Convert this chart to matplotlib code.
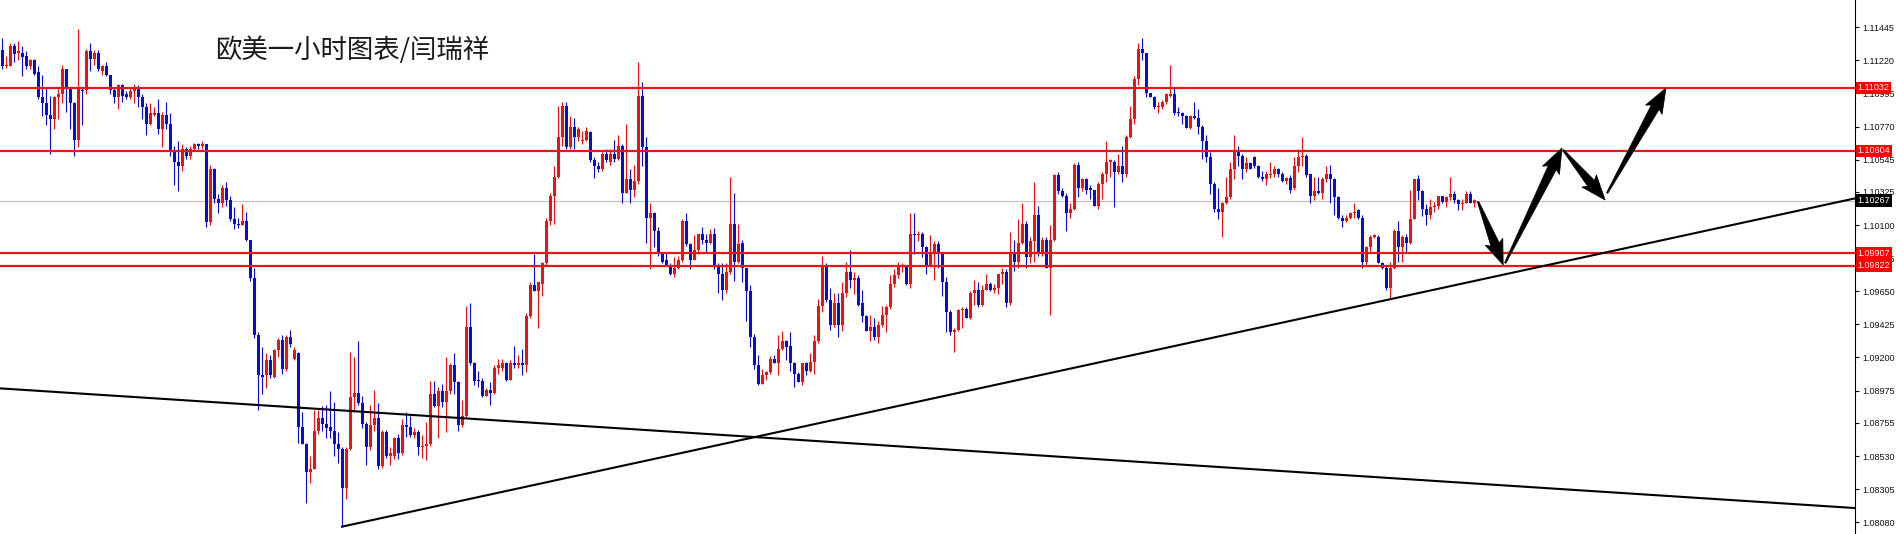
import numpy as np
import matplotlib
matplotlib.use('Agg')
import matplotlib.pyplot as plt
from matplotlib.patches import Polygon
from matplotlib.transforms import IdentityTransform, blended_transform_factory

plt.rcParams['font.family'] = ['Noto Sans CJK SC', 'DejaVu Sans']

# 价格 = BASE + 点数 / 10000 (从图上读出的一小时K线)
BASE = 1.08
opens_pips = [
    329, 318, 318, 332, 327, 327, 325, 318, 322, 314,
    297, 293, 285, 282, 297, 299, 316, 303, 293, 268,
    302, 302, 328, 323, 327, 315, 318, 312, 302, 297,
    305, 299, 297, 301, 304, 297, 290, 279, 285, 286,
    275, 285, 279, 261, 253, 250, 262, 257, 262, 265,
    264, 265, 212, 248, 228, 225, 235, 227, 214, 211,
    210, 213, 200, 174, 135, 108, 108, 118, 107, 125,
    132, 112, 134, 119, 123, 73, 61, 42, 44, 70,
    79, 75, 73, 70, 61, 58, 31, 58, 93, 96,
    89, 75, 59, 74, 79, 46, 69, 53, 53, 65,
    55, 74, 73, 67, 69, 59, 60, 61, 95, 87,
    97, 90, 97, 115, 103, 74, 80, 141, 116, 105,
    104, 94, 98, 96, 113, 113, 116, 105, 116, 115,
    116, 115, 148, 169, 165, 170, 184, 213, 230, 243,
    270, 291, 263, 277, 270, 267, 268, 273, 254, 250,
    248, 258, 253, 258, 255, 264, 232, 241, 234, 240,
    298, 263, 215, 218, 206, 190, 186, 183, 177, 181,
    186, 213, 197, 186, 193, 204, 200, 198, 204, 183,
    177, 166, 178, 211, 185, 198, 181, 165, 134, 115,
    102, 108, 110, 119, 116, 126, 131, 128, 116, 109,
    103, 116, 111, 117, 131, 155, 183, 159, 142, 157,
    142, 164, 178, 173, 174, 157, 148, 138, 141, 134,
    142, 149, 154, 170, 176, 182, 182, 170, 204, 203,
    204, 195, 183, 190, 197, 190, 171, 151, 137, 139,
    152, 153, 147, 164, 166, 156, 166, 170, 166, 167,
    177, 178, 157, 191, 185, 198, 211, 188, 199, 217,
    190, 200, 181, 200, 244, 233, 230, 218, 221, 251,
    235, 241, 235, 234, 223, 238, 245, 253, 253, 246,
    250, 245, 270, 282, 309, 330, 327, 300, 297, 290,
    290, 294, 298, 299, 287, 286, 284, 276, 284, 283,
    277, 267, 256, 238, 221, 219, 225, 229, 248, 261,
    257, 248, 252, 256, 250, 243, 241, 244, 245, 248,
    245, 240, 242, 235, 250, 256, 257, 245, 230, 233,
    232, 241, 245, 241, 229, 215, 213, 215, 218, 220,
    215, 185, 195, 202, 202, 184, 181, 167, 181, 206,
    195, 202, 198, 214, 241, 233, 221, 217, 222, 223,
    230, 226, 229, 231, 227, 224, 225, 231, 225,
]
highs_pips = [
    337, 325, 334, 334, 335, 332, 328, 323, 323, 318,
    312, 303, 298, 298, 303, 319, 316, 303, 294, 343,
    303, 330, 334, 329, 329, 319, 321, 312, 303, 306,
    306, 301, 303, 306, 305, 299, 293, 293, 290, 296,
    287, 294, 286, 264, 267, 265, 263, 264, 266, 266,
    267, 265, 251, 249, 231, 237, 239, 230, 222, 215,
    224, 219, 200, 181, 137, 127, 123, 122, 126, 133,
    135, 135, 139, 127, 124, 83, 62, 53, 84, 84,
    87, 88, 97, 90, 69, 59, 59, 124, 120, 131,
    94, 76, 88, 98, 89, 71, 71, 59, 66, 68,
    78, 83, 80, 72, 71, 67, 76, 104, 104, 100,
    102, 120, 116, 123, 104, 91, 155, 157, 117, 111,
    106, 99, 103, 115, 119, 119, 117, 118, 128, 122,
    126, 150, 171, 190, 171, 185, 215, 232, 250, 291,
    294, 294, 284, 283, 277, 274, 277, 274, 256, 253,
    260, 262, 262, 268, 271, 265, 279, 248, 251, 321,
    307, 270, 225, 219, 209, 192, 192, 184, 188, 189,
    214, 218, 198, 203, 204, 209, 204, 207, 208, 184,
    184, 184, 243, 232, 211, 200, 181, 169, 136, 122,
    112, 111, 121, 122, 135, 138, 132, 137, 117, 110,
    116, 117, 123, 135, 160, 189, 184, 167, 164, 164,
    171, 185, 193, 178, 176, 166, 149, 149, 147, 145,
    155, 156, 176, 180, 185, 184, 183, 218, 218, 206,
    205, 196, 203, 199, 199, 191, 175, 152, 140, 153,
    154, 154, 165, 173, 171, 169, 177, 171, 170, 177,
    181, 180, 205, 200, 214, 225, 213, 202, 239, 223,
    202, 202, 210, 245, 246, 235, 232, 225, 252, 253,
    242, 242, 237, 234, 239, 246, 267, 255, 254, 258,
    264, 271, 291, 311, 334, 337, 327, 300, 298, 294,
    295, 300, 319, 303, 290, 287, 285, 285, 294, 289,
    278, 271, 260, 239, 235, 226, 243, 253, 271, 264,
    258, 256, 253, 257, 251, 247, 247, 253, 250, 249,
    246, 243, 244, 256, 262, 270, 258, 245, 243, 243,
    243, 250, 251, 242, 230, 217, 217, 219, 225, 221,
    217, 196, 203, 204, 203, 185, 182, 185, 207, 213,
    203, 204, 234, 241, 244, 234, 224, 228, 226, 230,
    230, 230, 243, 233, 228, 228, 233, 233, 228,
]
lows_pips = [
    316, 317, 318, 321, 322, 311, 316, 316, 312, 296,
    284, 278, 258, 275, 282, 293, 287, 275, 257, 263,
    278, 299, 315, 319, 315, 312, 311, 299, 293, 289,
    294, 296, 296, 293, 290, 282, 271, 278, 284, 272,
    263, 275, 257, 237, 233, 247, 255, 255, 261, 262,
    262, 209, 210, 225, 218, 222, 223, 213, 207, 208,
    210, 199, 172, 133, 84, 95, 99, 106, 106, 120,
    109, 111, 127, 118, 62, 61, 21, 35, 44, 68,
    70, 65, 65, 53, 48, 5, 24, 57, 83, 88,
    72, 47, 57, 70, 44, 45, 52, 47, 51, 51,
    54, 66, 66, 65, 54, 52, 50, 60, 86, 65,
    86, 69, 95, 95, 70, 73, 79, 115, 101, 100,
    93, 94, 88, 95, 109, 111, 104, 105, 113, 113,
    108, 110, 147, 165, 140, 162, 183, 210, 211, 242,
    264, 262, 262, 262, 267, 265, 267, 253, 242, 246,
    247, 253, 251, 253, 254, 225, 232, 225, 229, 238,
    250, 198, 180, 195, 189, 184, 183, 176, 175, 180,
    185, 196, 180, 186, 190, 197, 192, 197, 180, 164,
    159, 164, 177, 172, 184, 171, 145, 127, 112, 101,
    102, 105, 109, 116, 108, 125, 118, 111, 100, 103,
    101, 108, 110, 109, 130, 151, 158, 139, 141, 134,
    138, 161, 167, 163, 155, 144, 138, 131, 132, 130,
    141, 137, 153, 168, 174, 178, 169, 167, 190, 199,
    188, 177, 182, 173, 181, 162, 137, 135, 124, 138,
    140, 147, 146, 156, 154, 155, 166, 165, 164, 163,
    170, 154, 156, 179, 181, 197, 181, 184, 185, 189,
    189, 181, 149, 199, 231, 229, 206, 215, 220, 229,
    233, 231, 228, 223, 221, 228, 239, 243, 222, 245,
    239, 243, 269, 279, 305, 322, 297, 297, 289, 286,
    289, 292, 297, 285, 284, 279, 276, 275, 282, 272,
    255, 253, 231, 219, 214, 202, 224, 228, 241, 250,
    241, 246, 248, 249, 242, 240, 237, 242, 243, 243,
    239, 238, 232, 234, 246, 250, 243, 225, 227, 231,
    228, 239, 225, 217, 214, 209, 212, 214, 215, 214,
    181, 183, 192, 201, 184, 180, 166, 160, 180, 185,
    185, 191, 197, 214, 227, 216, 210, 214, 219, 221,
    225, 222, 227, 225, 220, 220, 225, 225, 222,
]
closes_pips = [
    318, 319, 332, 326, 328, 324, 318, 322, 313, 297,
    293, 285, 282, 297, 299, 316, 304, 293, 268, 303,
    301, 328, 323, 327, 316, 318, 312, 302, 297, 305,
    298, 297, 301, 304, 297, 290, 279, 286, 286, 275,
    285, 279, 261, 253, 250, 262, 257, 262, 265, 264,
    265, 212, 248, 228, 225, 235, 227, 214, 211, 210,
    213, 200, 174, 135, 108, 107, 118, 108, 125, 132,
    112, 134, 129, 125, 73, 61, 42, 44, 70, 79,
    75, 72, 70, 61, 58, 31, 58, 93, 96, 89,
    75, 59, 74, 79, 46, 69, 53, 55, 65, 55,
    74, 73, 67, 69, 59, 60, 61, 95, 87, 97,
    90, 97, 115, 103, 74, 80, 141, 116, 104, 104,
    94, 98, 96, 113, 115, 116, 105, 116, 115, 116,
    115, 148, 169, 165, 171, 184, 213, 230, 243, 270,
    291, 263, 277, 270, 275, 268, 274, 254, 250, 248,
    258, 254, 258, 255, 264, 232, 241, 234, 240, 298,
    263, 215, 218, 206, 190, 185, 183, 177, 181, 186,
    213, 197, 186, 193, 204, 200, 198, 204, 183, 177,
    166, 178, 211, 185, 197, 181, 165, 134, 115, 102,
    108, 110, 119, 116, 126, 131, 127, 116, 109, 103,
    116, 111, 117, 131, 155, 183, 159, 142, 157, 142,
    164, 178, 173, 174, 156, 148, 138, 141, 134, 142,
    149, 154, 170, 176, 182, 183, 170, 204, 203, 204,
    195, 183, 190, 197, 190, 171, 151, 137, 139, 152,
    153, 147, 164, 166, 156, 166, 170, 166, 167, 177,
    178, 157, 191, 185, 198, 211, 188, 199, 217, 190,
    200, 181, 200, 244, 233, 230, 218, 221, 251, 235,
    241, 234, 234, 223, 238, 245, 253, 254, 246, 250,
    245, 270, 282, 309, 330, 327, 300, 297, 290, 291,
    294, 299, 299, 286, 286, 284, 276, 284, 283, 277,
    267, 256, 238, 221, 219, 225, 229, 248, 261, 257,
    248, 252, 248, 250, 243, 241, 245, 244, 248, 245,
    240, 242, 234, 250, 256, 257, 244, 230, 233, 232,
    241, 245, 241, 229, 215, 213, 215, 218, 219, 215,
    185, 195, 202, 203, 184, 181, 167, 181, 206, 195,
    202, 198, 214, 241, 233, 221, 217, 222, 223, 230,
    226, 229, 231, 227, 224, 225, 231, 225, 227,
]
assert len(opens_pips) == len(highs_pips) == len(lows_pips) == len(closes_pips)

# 支撑阻力位和当前价
level_prices = [1.11032, 1.10604, 1.09907, 1.09822]
last_price = 1.10267
tick_prices = [1.11445, 1.11220, 1.10995, 1.10770, 1.10545, 1.10325, 1.10100,
               1.09875, 1.09650, 1.09425, 1.09200, 1.08975, 1.08755, 1.08530,
               1.08305, 1.08080]

# 趋势线 (K线序号, 价格)
trend_down = [(-0.5, 1.08990), (463.5, 1.08176)]
trend_up = [(85, 1.08050), (463.5, 1.10283)]

# 预测走势箭头
arrow_paths = [
    ((369.0, 1.10260), (375.3, 1.09829)),
    ((375.8, 1.09842), (390.0, 1.10624)),
    ((390.3, 1.10610), (400.8, 1.10270)),
    ((401.3, 1.10318), (416.0, 1.11032)),
]
title = '欧美一小时图表/闫瑞祥'

opens = BASE + np.array(opens_pips) / 1e4
highs = BASE + np.array(highs_pips) / 1e4
lows = BASE + np.array(lows_pips) / 1e4
closes = BASE + np.array(closes_pips) / 1e4
idx = np.arange(len(opens))

RED = '#ee1111'
BLUE = '#0b0bd8'

fig = plt.figure(figsize=(18.96, 5.34), dpi=100)
ax = fig.add_axes([0, 0, 1855 / 1896, 1])
ax.set_xlim(-0.5, 463.25)
ax.set_ylim(1.0800, 1.1163)

# K线
colors = np.where(closes >= opens, RED, BLUE)
ax.vlines(idx, lows, highs, colors=colors, lw=0.8, zorder=3)
body = np.maximum(np.abs(closes - opens), 0.00006)
ax.bar(idx, body, bottom=np.minimum(opens, closes), width=0.75,
       color=colors, linewidth=0, zorder=3)

# 水平线
ax.axhline(last_price, color='#c0c0c0', lw=0.8, zorder=1)
for p in level_prices:
    ax.axhline(p, color='#e8161b', lw=1.6, zorder=4)

# 趋势线
for line in (trend_down, trend_up):
    xs, ys = zip(*line)
    ax.plot(xs, ys, color='black', lw=1.5, zorder=4)

# 坐标轴
ax.yaxis.tick_right()
ax.set_yticks(tick_prices)
ax.set_yticklabels([f'{p:.5f}' for p in tick_prices], fontfamily='Liberation Sans')
ax.tick_params(axis='y', direction='out', length=3, width=0.8, pad=2,
               labelsize=6.5, colors='#111111')
ax.set_xticks([])
for s in ('top', 'left', 'bottom'):
    ax.spines[s].set_visible(False)
ax.spines['right'].set_color('black')
ax.spines['right'].set_linewidth(0.8)

# 右侧价格标签
trans = blended_transform_factory(ax.transAxes, ax.transData)
for p in level_prices:
    ax.text(1.0015, p, f'{p:.5f}', transform=trans, ha='left', va='center',
            fontsize=6.5, fontfamily='Liberation Sans', color='white',
            bbox=dict(boxstyle='square,pad=0.2', fc='#ff0000', ec='none'),
            clip_on=False, zorder=6)
ax.text(1.0015, last_price, f'{last_price:.5f}', transform=trans, ha='left',
        va='center', fontsize=6.5, fontfamily='Liberation Sans', color='white',
        bbox=dict(boxstyle='square,pad=0.2', fc='black', ec='none'),
        clip_on=False, zorder=6)

# 标题
ax.text(0.1159, 0.906, title, transform=ax.transAxes, fontsize=19,
        color='#1a1a1a', ha='left', va='center')

# 箭头 (像素坐标里画成逐渐变粗的楔形)
for a, b in arrow_paths:
    p0 = ax.transData.transform(a)
    p1 = ax.transData.transform(b)
    d = (p1 - p0) / np.hypot(*(p1 - p0))
    n = np.array([-d[1], d[0]])
    base = p1 - d * 22
    pts = [p0 + n * 0.7, base + n * 4.5, base - d * 3 + n * 9.5, p1,
           base - d * 3 - n * 9.5, base - n * 4.5, p0 - n * 0.7]
    fig.add_artist(Polygon(pts, closed=True, transform=IdentityTransform(),
                           fc='black', ec='black', lw=0.5, zorder=5))

fig.savefig('out.png', dpi=100)
